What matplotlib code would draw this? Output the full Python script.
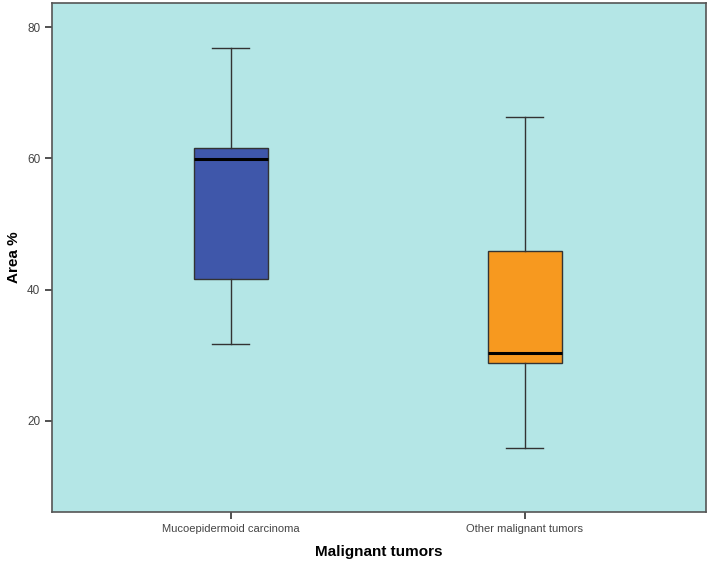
import matplotlib
matplotlib.use("Agg")
import matplotlib.pyplot as plt

plt.rcParams['font.family'] = ['Liberation Sans', 'DejaVu Sans']

# Box plot summary values
groups = ['Mucoepidermoid carcinoma', 'Other malignant tumors']
whisker_low = [31.7, 15.8]
q1 = [41.6, 28.8]
medians = [59.85, 30.4]
q3 = [61.6, 45.9]
whisker_high = [76.8, 66.3]
box_colors = ['#3F57AA', '#F7991F']

stats = []
for i, name in enumerate(groups):
    stats.append({'label': name, 'whislo': whisker_low[i], 'q1': q1[i],
                  'med': medians[i], 'q3': q3[i], 'whishi': whisker_high[i],
                  'fliers': []})

fig = plt.figure(figsize=(7.08, 5.68), dpi=100)
ax = fig.add_axes([0.0734, 0.0986, 0.9237, 0.8961])
ax.set_facecolor('#B4E6E6')

bp = ax.bxp(stats, positions=[1, 2], widths=0.252, patch_artist=True,
            showfliers=False,
            boxprops=dict(edgecolor='#333333', linewidth=1.0),
            medianprops=dict(color='black', linewidth=2.2),
            whiskerprops=dict(color='#333333', linewidth=1.0),
            capprops=dict(color='#333333', linewidth=1.0),
            capwidths=0.126)
for patch, c in zip(bp['boxes'], box_colors):
    patch.set_facecolor(c)

ax.set_xlim(0.391, 2.616)
ax.set_ylim(6.1, 83.7)
ax.set_yticks([20, 40, 60, 80])
ax.set_xticks([1, 2])
ax.set_xticklabels(groups)
ax.tick_params(axis='both', colors='#333333', labelcolor='#444444',
               labelsize=8, length=5, width=1.2)
ax.tick_params(axis='y', labelsize=8.5)
for s in ax.spines.values():
    s.set_color('#555555')
    s.set_linewidth(1.2)

ax.set_ylabel('Area %', fontsize=11, fontweight='bold', labelpad=4)
ax.set_xlabel('Malignant tumors', fontsize=11, fontweight='bold', labelpad=8)

fig.savefig('out.png', dpi=100, facecolor='white')
